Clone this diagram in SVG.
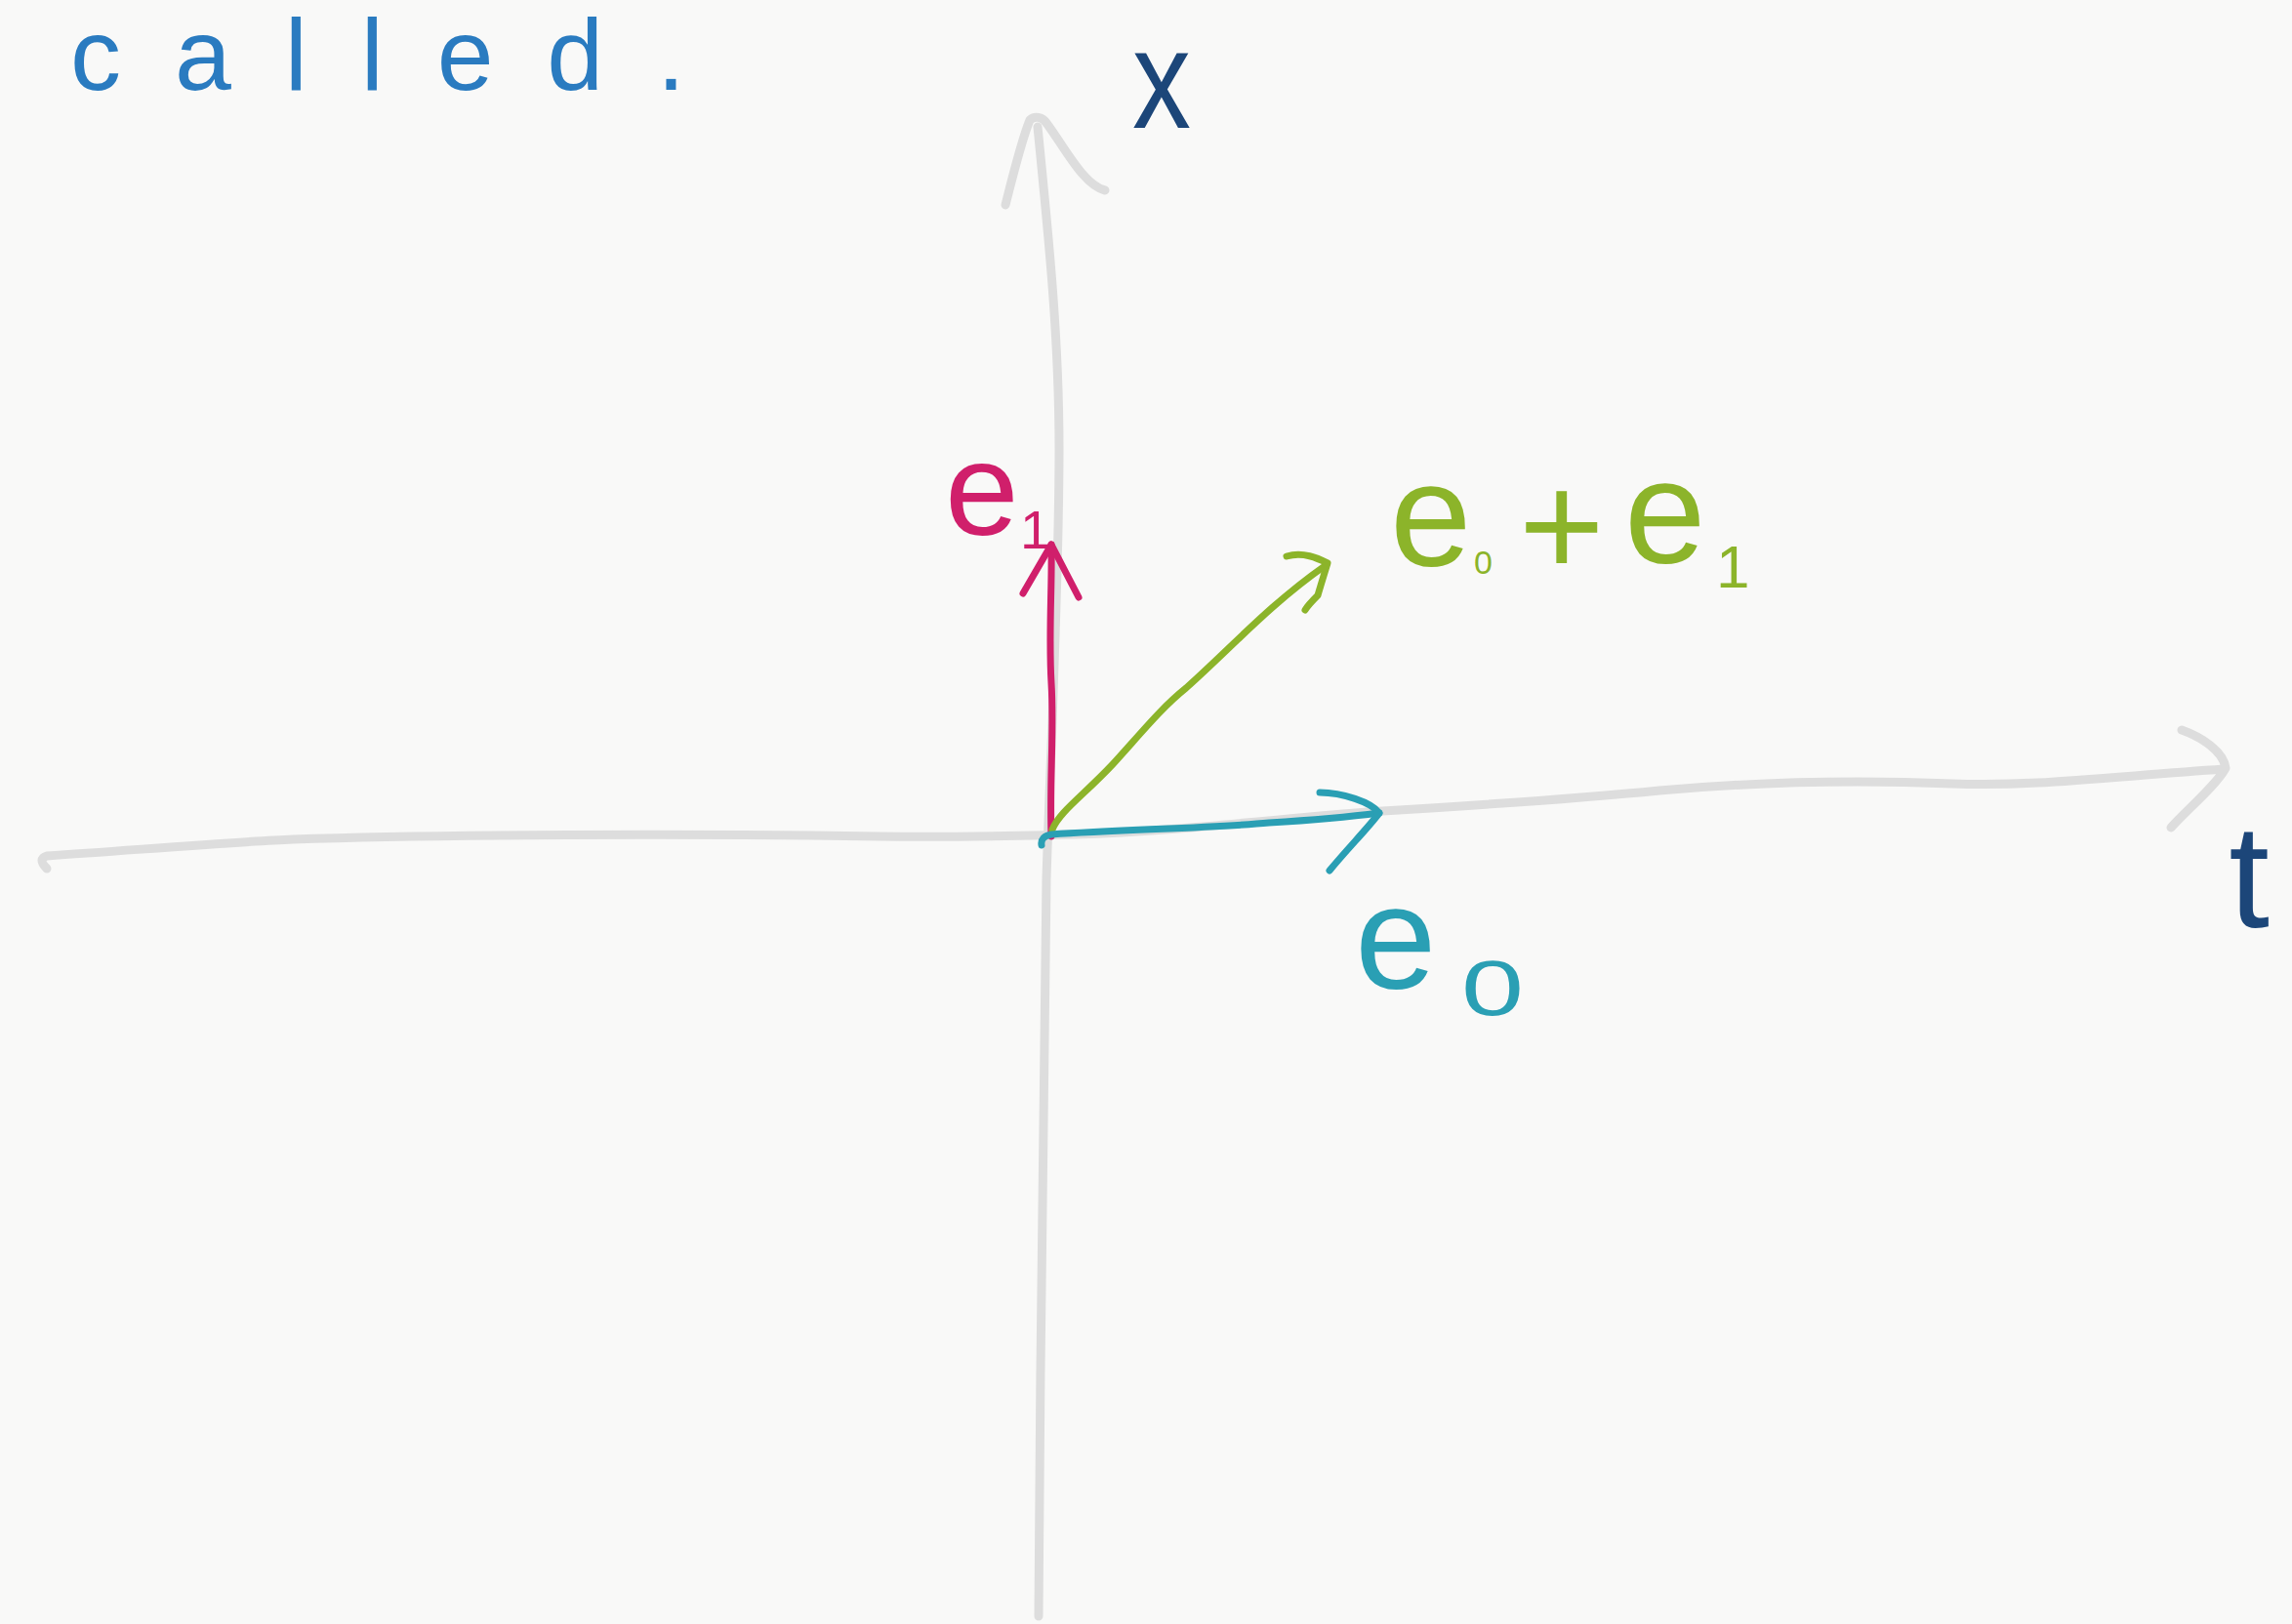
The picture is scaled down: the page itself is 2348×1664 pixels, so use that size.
<svg xmlns="http://www.w3.org/2000/svg" width="2348" height="1664" viewBox="0 0 2348 1664">
<style>
.axis{fill:none;stroke:#dddddd;stroke-width:9;stroke-linecap:round;stroke-linejoin:round}
.vec{fill:none;stroke-width:7;stroke-linecap:round;stroke-linejoin:round}
.lbl{font-family:"Liberation Sans","DejaVu Sans",sans-serif}
.navy{fill:#1c4679}
.mag{stroke:#d01f6b}
.grn{stroke:#8cb42a}
.teal{stroke:#2a9fb4}
</style>
<rect width="2348" height="1664" fill="#f9f9f8"/>
<g id="axis-x">
<path class="axis" d="M1063,130 C1075,250 1085,350 1085,460 C1085,600 1075,800 1072,900 C1068,1100 1066,1400 1064,1656"/>
<path class="axis" d="M1030,210 C1040,170 1050,135 1055,123 C1060,118 1068,120 1072,126 C1090,150 1110,190 1132,195"/>
</g>
<g id="axis-t">
<path class="axis" d="M48,890 Q38,880 48,877 C150,870 250,862 300,860 C450,855 700,854 900,857 C1000,858 1050,856 1100,855 C1200,852 1300,840 1400,832 C1500,826 1600,820 1700,810 C1800,801 1900,799 2000,803 C2080,806 2150,797 2278,788"/>
<path class="axis" d="M2235,748 C2255,755 2278,770 2280,787 C2270,805 2240,830 2224,848"/>
</g>
<g id="connectors">
<g id="vec-e1">
<path class="vec mag" d="M1077,857 C1075,800 1080,750 1077,700 C1074,650 1078,600 1077,558"/>
<path class="vec mag" d="M1048,608 L1077,558 L1105,612"/>
</g>
<g id="vec-e0-plus-e1">
<path class="vec grn" d="M1078,850 C1085,832 1110,815 1140,783 C1170,750 1190,725 1215,705 C1260,665 1300,620 1357,580"/>
<path class="vec grn" d="M1318,570 C1335,565 1350,572 1360,577 C1356,590 1352,603 1350,610 C1345,615 1340,620 1337,625"/>
</g>
<g id="vec-e0">
<path class="vec teal" d="M1067,866 C1066,860 1070,856 1077,855 C1150,850 1250,848 1300,843 C1350,840 1390,836 1413,833"/>
<path class="vec teal" d="M1352,812 C1375,812 1405,822 1413,833 C1400,850 1380,870 1362,892"/>
</g>
</g>
<g id="label-called">
<text class="lbl" x="72" y="92" font-size="104" fill="#2a7bc0" textLength="630" lengthAdjust="spacing">called.</text>
</g>
<g id="label-x">
<text class="lbl navy" x="1160" y="131" font-size="145" textLength="60" lengthAdjust="spacingAndGlyphs">x</text>
</g>
<g id="label-t">
<text class="lbl navy" x="2304" y="950" font-size="150" text-anchor="middle">t</text>
</g>
<g id="label-e1">
<text class="lbl" fill="#d01f6b"><tspan x="968" y="548" font-size="136">e</tspan><tspan x="1045" y="562" font-size="56">1</tspan></text>
</g>
<g id="label-e0-plus-e1">
<text class="lbl" fill="#8cb42a"><tspan x="1424" y="580" font-size="150">e</tspan><tspan x="1510" y="588" font-size="34">0</tspan><tspan x="1556" y="590" font-size="150">+</tspan><tspan x="1664" y="577" font-size="150">e</tspan><tspan x="1758" y="602" font-size="62">1</tspan></text>
</g>
<g id="label-e0">
<text class="lbl" fill="#2a9fb4"><tspan x="1388" y="1013" font-size="150">e</tspan><tspan x="1497" y="1040" font-size="80" textLength="64" lengthAdjust="spacingAndGlyphs">0</tspan></text>
</g>
</svg>
